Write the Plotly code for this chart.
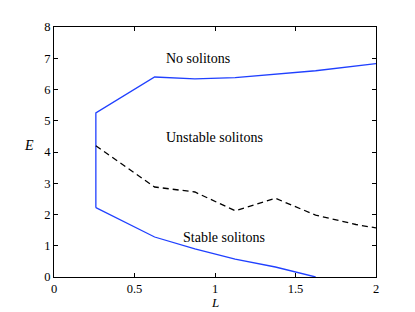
import plotly.graph_objects as go

# Upper boundary (No solitons / Unstable solitons)
upper_L = [0.26, 0.26, 0.625, 0.875, 1.125, 1.375, 1.625, 2.0]
upper_E = [2.22, 5.25, 6.40, 6.34, 6.38, 6.48, 6.60, 6.83]

# Lower boundary (Stable solitons)
lower_L = [0.26, 0.625, 0.875, 1.125, 1.375, 1.625]
lower_E = [2.22, 1.28, 0.90, 0.57, 0.32, 0.0]

# Stability boundary (dashed)
stab_L = [0.26, 0.625, 0.875, 1.125, 1.375, 1.625, 1.875, 2.0]
stab_E = [4.20, 2.88, 2.72, 2.12, 2.52, 1.98, 1.68, 1.57]

x_ticks = [0, 0.5, 1, 1.5, 2]
x_tick_labels = ["0", "0.5", "1", "1.5", "2"]
y_ticks = [0, 1, 2, 3, 4, 5, 6, 7, 8]

labels = ["No solitons", "Unstable solitons", "Stable solitons"]
label_L = [0.894, 0.998, 1.054]
label_E = [6.99, 4.47, 1.25]

blue = "rgb(32,64,255)"
font_family = "Liberation Serif, Times New Roman, serif"

fig = go.Figure()
fig.add_trace(go.Scatter(x=upper_L, y=upper_E, mode="lines",
                         line=dict(color=blue, width=1.3), showlegend=False))
fig.add_trace(go.Scatter(x=lower_L, y=lower_E, mode="lines",
                         line=dict(color=blue, width=1.3), showlegend=False))
fig.add_trace(go.Scatter(x=stab_L, y=stab_E, mode="lines",
                         line=dict(color="black", width=1.3, dash="6px,4px"),
                         showlegend=False))

for t, lx, ly in zip(labels, label_L, label_E):
    fig.add_annotation(x=lx, y=ly, text=t, showarrow=False,
                       font=dict(family=font_family, size=14, color="black"))

fig.add_annotation(x=0.5, xref="paper", y=-0.1, yref="paper", yanchor="middle",
                   text="<i>L</i>", showarrow=False,
                   font=dict(family=font_family, size=13, color="black"))
fig.add_annotation(x=-0.055, xref="paper", xanchor="right", y=4.2, yref="y",
                   text="<i>E</i>", showarrow=False,
                   font=dict(family=font_family, size=14, color="black"))

axis_common = dict(showline=True, linecolor="black", linewidth=1, mirror="ticks",
                   ticks="inside", ticklen=4, tickcolor="black", tickwidth=1,
                   showgrid=False, zeroline=False,
                   tickfont=dict(family=font_family, size=12.5, color="black"))

fig.update_xaxes(range=[0, 2], tickvals=x_ticks, ticktext=x_tick_labels, **axis_common)
fig.update_yaxes(range=[0, 8], tickvals=y_ticks, **axis_common)

fig.update_layout(width=407, height=304,
                  margin=dict(l=46, r=39, t=15, b=35),
                  plot_bgcolor="white", paper_bgcolor="white")

fig.write_html("out.html")
